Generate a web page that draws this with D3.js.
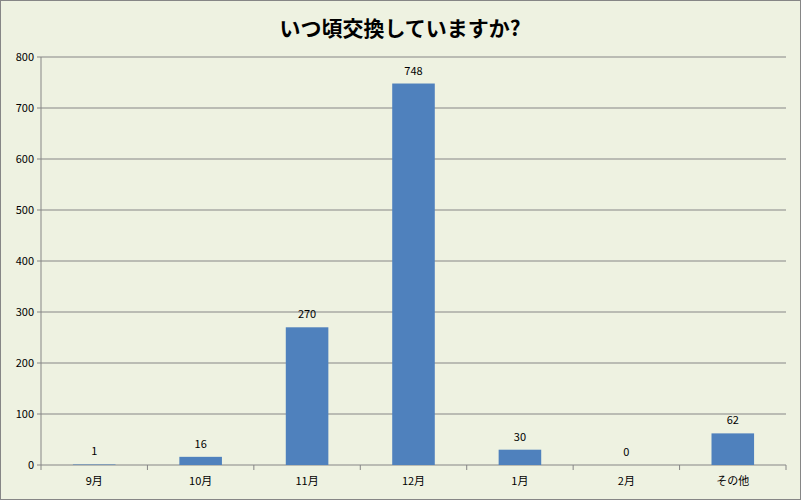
<!DOCTYPE html><html><head><meta charset="utf-8"><script src="https://cdn.jsdelivr.net/npm/d3@7"></script>
<style>body{margin:0}svg{display:block}</style></head><body><svg width="801" height="500"></svg>
<script>
const categories=["9月","10月","11月","12月","1月","2月","その他"];
const values=[1,16,270,748,30,0,62];
const yTicks=[0,100,200,300,400,500,600,700,800];
const svg=d3.select("svg");
const font="'Noto Sans CJK JP', sans-serif";
svg.append("rect").attr("x",0.5).attr("y",0.5).attr("width",800).attr("height",499).attr("fill","#EEF2E1").attr("stroke","#868686");
const L=41,R=786,T=57,B=465;
const x=d3.scaleBand().domain(categories).range([L,R]).paddingInner(0.6).paddingOuter(0.3);
const y=d3.scaleLinear().domain([0,800]).range([B,T]);
const g=svg.append("g");
g.selectAll(".gl").data(yTicks).join("line").attr("x1",L).attr("x2",R).attr("y1",d=>y(d)).attr("y2",d=>y(d)).attr("stroke","#868686");
g.append("line").attr("x1",L).attr("x2",L).attr("y1",T).attr("y2",B).attr("stroke","#868686");
g.selectAll(".tk").data(yTicks).join("line").attr("x1",L-4).attr("x2",L).attr("y1",d=>y(d)).attr("y2",d=>y(d)).attr("stroke","#868686");
g.selectAll(".yl").data(yTicks).join("text").attr("x",L-7).attr("y",d=>y(d)+4).attr("text-anchor","end").attr("font-size",11).attr("font-family",font).text(d=>d);
const step=(R-L)/categories.length;
g.selectAll(".xt").data(d3.range(categories.length+1)).join("line").attr("x1",i=>L+i*step).attr("x2",i=>L+i*step).attr("y1",B).attr("y2",B+5).attr("stroke","#868686");
g.selectAll(".bar").data(values).join("rect").attr("x",(d,i)=>x(categories[i])).attr("width",x.bandwidth()).attr("y",d=>y(d)).attr("height",d=>B-y(d)).attr("fill","#4F81BD");
g.selectAll(".vl").data(values).join("text").attr("x",(d,i)=>x(categories[i])+x.bandwidth()/2).attr("y",d=>y(d)-9).attr("text-anchor","middle").attr("font-size",11).attr("font-family",font).text(d=>d);
g.selectAll(".xl").data(categories).join("text").attr("x",d=>x(d)+x.bandwidth()/2).attr("y",B+20).attr("text-anchor","middle").attr("font-size",11).attr("font-family",font).text(d=>d);
svg.append("text").attr("x",400).attr("y",36).attr("text-anchor","middle").attr("font-size",21).attr("font-weight","bold").attr("font-family",font).text("いつ頃交換していますか?");
</script></body></html>
